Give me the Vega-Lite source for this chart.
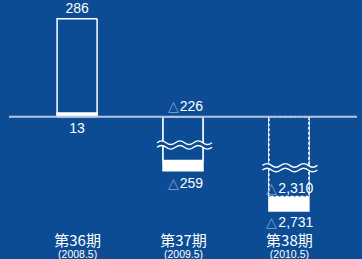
{
  "$schema": "https://vega.github.io/schema/vega-lite/v6.json",
  "width": 348,
  "height": 230,
  "autosize": {"type": "none"},
  "padding": {"left": 9, "top": 0, "right": 5, "bottom": 29},
  "background": "#0b4c95",
  "config": {"view": {"stroke": null}},
  "title": {"text": "(単位:百万円)", "anchor": "start", "frame": "group", "offset": -9, "baseline": "bottom", "fontSize": 9, "color": "white", "font": "Noto Sans CJK JP", "fontWeight": "normal", "dx": 11},
  "data": {"values": [
    {"period": "第36期", "date": "(2008.5)", "outer": 286, "inner": 13, "outerNum": "286", "innerNum": "13"},
    {"period": "第37期", "date": "(2009.5)", "outer": -226, "inner": -259, "outerNum": "226", "innerNum": "259"},
    {"period": "第38期", "date": "(2010.5)", "outer": -2310, "inner": -2731, "outerNum": "2,310", "innerNum": "2,731"}
  ]},
  "resolve": {"scale": {"x": "independent"}},
  "layer": [
    {
      "encoding": {
        "x": {"field": "period", "type": "nominal", "scale": {"type": "point", "padding": 0.643},
          "axis": {"orient": "bottom", "title": null, "domain": false, "ticks": false, "tickSize": 0, "grid": false, "labelPadding": 3, "labelFont": "Noto Sans CJK JP", "labelFontSize": 15, "labelColor": "white", "labelAngle": 0}}
      },
      "layer": [
        {
          "mark": {"type": "bar", "width": 41.5, "color": "white"},
          "encoding": {
            "y": {"field": "inner", "type": "quantitative", "axis": null,
              "scale": {"type": "linear", "zero": false, "nice": false, "domain": [-2731, -2310, -259, -226, 0, 286], "range": [211.7, 196.5, 171.5, 160.5, 116.8, 18.8]}},
            "y2": {"datum": 0}
          }
        },
        {
          "mark": {"type": "bar", "width": 40, "stroke": "white", "strokeWidth": 1.5},
          "encoding": {
            "y": {"field": "outer", "type": "quantitative"},
            "y2": {"datum": 0},
            "fill": {"condition": {"test": "datum.outer > 0", "value": "transparent"}, "value": "#0b4c95"},
            "strokeDash": {"condition": {"test": "datum.period === '第38期'", "value": [3, 2]}, "value": [1, 0]}
          }
        },
        {
          "data": {"values": [{"zero": 0}]},
          "mark": {"type": "rule", "color": "#b3c5e3", "strokeWidth": 2},
          "encoding": {"y": {"field": "zero", "type": "quantitative"}, "x": null}
        },
        {
          "transform": [{"filter": "datum.period === '第37期'"}],
          "mark": {"type": "point", "opacity": 1, "filled": true, "fill": "#0b4c95", "strokeWidth": 0, "size": 3025, "yOffset": -15.5, "xOffset": 1.5,
            "shape": "M-1,-0.084Q-0.833,-0.214,-0.667,-0.084T-0.333,-0.084T0,-0.084T0.333,-0.084T0.667,-0.084T1,-0.084L1,0.084Q0.833,0.214,0.667,0.084T0.333,0.084T0,0.084T-0.333,0.084T-0.667,0.084T-1,0.084Z"},
          "encoding": {"y": {"field": "outer", "type": "quantitative"}}
        },
        {
          "transform": [{"filter": "datum.period === '第37期'"}],
          "mark": {"type": "point", "opacity": 1, "filled": false, "stroke": "white", "strokeWidth": 1.4, "size": 3025, "yOffset": -15.5, "xOffset": 1.5,
            "shape": "M-1,-0.084Q-0.833,-0.214,-0.667,-0.084T-0.333,-0.084T0,-0.084T0.333,-0.084T0.667,-0.084T1,-0.084M-1,0.084Q-0.833,-0.046,-0.667,0.084T-0.333,0.084T0,0.084T0.333,0.084T0.667,0.084T1,0.084"},
          "encoding": {"y": {"field": "outer", "type": "quantitative"}}
        },
        {
          "transform": [{"filter": "datum.period === '第38期'"}],
          "mark": {"type": "point", "opacity": 1, "filled": true, "fill": "#0b4c95", "strokeWidth": 0, "size": 3025, "yOffset": -28.8, "xOffset": 1,
            "shape": "M-1,-0.084Q-0.833,-0.214,-0.667,-0.084T-0.333,-0.084T0,-0.084T0.333,-0.084T0.667,-0.084T1,-0.084L1,0.084Q0.833,0.214,0.667,0.084T0.333,0.084T0,0.084T-0.333,0.084T-0.667,0.084T-1,0.084Z"},
          "encoding": {"y": {"field": "outer", "type": "quantitative"}}
        },
        {
          "transform": [{"filter": "datum.period === '第38期'"}],
          "mark": {"type": "point", "opacity": 1, "filled": false, "stroke": "white", "strokeWidth": 1.4, "size": 3025, "yOffset": -28.8, "xOffset": 1,
            "shape": "M-1,-0.084Q-0.833,-0.214,-0.667,-0.084T-0.333,-0.084T0,-0.084T0.333,-0.084T0.667,-0.084T1,-0.084M-1,0.084Q-0.833,-0.046,-0.667,0.084T-0.333,0.084T0,0.084T0.333,0.084T0.667,0.084T1,0.084"},
          "encoding": {"y": {"field": "outer", "type": "quantitative"}}
        },
        {
          "transform": [{"filter": "datum.outer > 0"}],
          "mark": {"type": "text", "font": "Liberation Sans", "fontSize": 14, "color": "white", "baseline": "alphabetic", "align": "center", "dy": -5.5},
          "encoding": {"y": {"field": "outer", "type": "quantitative"}, "text": {"field": "outerNum"}}
        },
        {
          "transform": [{"filter": "datum.inner > 0"}],
          "mark": {"type": "text", "font": "Liberation Sans", "fontSize": 14, "color": "white", "baseline": "alphabetic", "align": "center", "dy": 16},
          "encoding": {"y": {"datum": 0}, "text": {"field": "innerNum"}}
        },
        {
          "transform": [{"filter": "datum.period === '第37期'"}],
          "mark": {"type": "text", "font": "Liberation Sans", "fontSize": 14, "color": "#8ba3cf", "baseline": "alphabetic", "align": "right", "dx": -4.5, "dy": -5.5},
          "encoding": {"y": {"datum": 0}, "text": {"value": "△"}}
        },
        {
          "transform": [{"filter": "datum.period === '第37期'"}],
          "mark": {"type": "text", "font": "Liberation Sans", "fontSize": 14, "color": "white", "baseline": "alphabetic", "align": "right", "dx": 20, "dy": -5.5},
          "encoding": {"y": {"datum": 0}, "text": {"field": "outerNum"}}
        },
        {
          "transform": [{"filter": "datum.period === '第37期'"}],
          "mark": {"type": "text", "font": "Liberation Sans", "fontSize": 14, "color": "#8ba3cf", "baseline": "alphabetic", "align": "right", "dx": -4.5, "dy": 16.5},
          "encoding": {"y": {"field": "inner", "type": "quantitative"}, "text": {"value": "△"}}
        },
        {
          "transform": [{"filter": "datum.period === '第37期'"}],
          "mark": {"type": "text", "font": "Liberation Sans", "fontSize": 14, "color": "white", "baseline": "alphabetic", "align": "right", "dx": 20, "dy": 16.5},
          "encoding": {"y": {"field": "inner", "type": "quantitative"}, "text": {"field": "innerNum"}}
        },
        {
          "transform": [{"filter": "datum.period === '第38期'"}],
          "mark": {"type": "text", "font": "Liberation Sans", "fontSize": 14, "color": "#8ba3cf", "baseline": "alphabetic", "align": "right", "dx": -11.5, "dy": -4},
          "encoding": {"y": {"field": "outer", "type": "quantitative"}, "text": {"value": "△"}}
        },
        {
          "transform": [{"filter": "datum.period === '第38期'"}],
          "mark": {"type": "text", "font": "Liberation Sans", "fontSize": 14, "color": "white", "baseline": "alphabetic", "align": "right", "dx": 24.5, "dy": -4},
          "encoding": {"y": {"field": "outer", "type": "quantitative"}, "text": {"field": "outerNum"}}
        },
        {
          "transform": [{"filter": "datum.period === '第38期'"}],
          "mark": {"type": "text", "font": "Liberation Sans", "fontSize": 14, "color": "#8ba3cf", "baseline": "alphabetic", "align": "right", "dx": -11.5, "dy": 15.5},
          "encoding": {"y": {"field": "inner", "type": "quantitative"}, "text": {"value": "△"}}
        },
        {
          "transform": [{"filter": "datum.period === '第38期'"}],
          "mark": {"type": "text", "font": "Liberation Sans", "fontSize": 14, "color": "white", "baseline": "alphabetic", "align": "right", "dx": 24.5, "dy": 15.5},
          "encoding": {"y": {"field": "inner", "type": "quantitative"}, "text": {"field": "innerNum"}}
        }
      ]
    },
    {
      "mark": {"type": "point", "opacity": 0},
      "encoding": {
        "x": {"field": "date", "type": "nominal", "scale": {"type": "point", "padding": 0.643},
          "axis": {"orient": "bottom", "title": null, "domain": false, "ticks": false, "tickSize": 0, "grid": false, "labelPadding": 19.5, "labelFont": "Liberation Sans", "labelFontSize": 10.5, "labelColor": "white", "labelAngle": 0}}
      }
    }
  ]
}
